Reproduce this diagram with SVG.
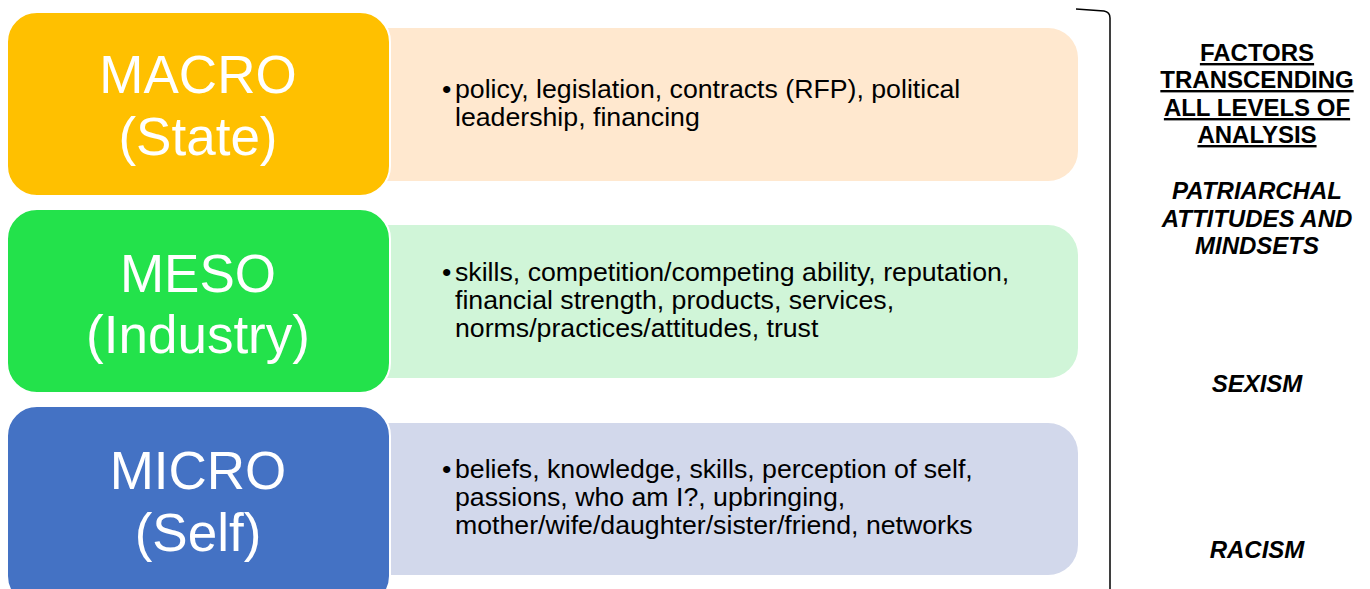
<svg xmlns="http://www.w3.org/2000/svg" width="1370" height="589" viewBox="0 0 1370 589">
<style>
.big{font-family:"Liberation Sans",Arial,sans-serif;font-size:53px;fill:#fff;text-anchor:middle}
.body{font-family:"Liberation Sans",Arial,sans-serif;font-size:26.7px;fill:#000}
.hd{font-family:"Liberation Sans",Arial,sans-serif;font-size:24px;font-weight:bold;fill:#000;text-anchor:middle}
.it{font-style:italic}
.lvl{stroke:#fff;stroke-width:2}
</style>
<rect width="1370" height="589" fill="#fff"/>
<g id="macro-detail"><path d="M370 28 H1048 A30 30 0 0 1 1078 58 V151 A30 30 0 0 1 1048 181 H370 Z" fill="#FFE8CF"/>
<text class="body"><tspan x="442" y="98">•</tspan><tspan x="455" y="98">policy, legislation, contracts (RFP), political</tspan><tspan x="455" y="126">leadership, financing</tspan></text></g>
<g id="meso-detail"><path d="M370 225 H1048 A30 30 0 0 1 1078 255 V348 A30 30 0 0 1 1048 378 H370 Z" fill="#D0F5D8"/>
<text class="body"><tspan x="442" y="281">•</tspan><tspan x="455" y="281">skills, competition/competing ability, reputation,</tspan><tspan x="455" y="309">financial strength, products, services,</tspan><tspan x="455" y="337">norms/practices/attitudes, trust</tspan></text></g>
<g id="micro-detail"><path d="M370 423 H1048 A30 30 0 0 1 1078 453 V545 A30 30 0 0 1 1048 575 H370 Z" fill="#D2D8EB"/>
<text class="body"><tspan x="442" y="478">•</tspan><tspan x="455" y="478">beliefs, knowledge, skills, perception of self,</tspan><tspan x="455" y="506">passions, who am I?, upbringing,</tspan><tspan x="455" y="534">mother/wife/daughter/sister/friend, networks</tspan></text></g>
<g id="macro"><rect class="lvl" x="7" y="12" width="383" height="184" rx="30" fill="#FFC000"/>
<text class="big"><tspan x="198" y="93">MACRO</tspan><tspan x="198" y="155">(State)</tspan></text></g>
<g id="meso"><rect class="lvl" x="7" y="209" width="383" height="184" rx="30" fill="#23E24B"/>
<text class="big"><tspan x="198" y="292">MESO</tspan><tspan x="198" y="353">(Industry)</tspan></text></g>
<g id="micro"><rect class="lvl" x="7" y="406" width="383" height="200" rx="30" fill="#4472C4"/>
<text class="big"><tspan x="198" y="489">MICRO</tspan><tspan x="198" y="551">(Self)</tspan></text></g>
<g id="connectors"><path d="M1076 9 L1104 11 Q1110 12 1110 18 V589" fill="none" stroke="#000" stroke-width="1.5"/></g>
<g id="factors"><text class="hd" text-decoration="underline"><tspan x="1257" y="61">FACTORS</tspan><tspan x="1257" y="88">TRANSCENDING</tspan><tspan x="1257" y="116">ALL LEVELS OF</tspan><tspan x="1257" y="143">ANALYSIS</tspan></text></g>
<g id="patriarchal"><text class="hd it"><tspan x="1257" y="199">PATRIARCHAL</tspan><tspan x="1257" y="227">ATTITUDES AND</tspan><tspan x="1257" y="254">MINDSETS</tspan></text></g>
<g id="sexism"><text class="hd it" x="1257" y="392">SEXISM</text></g>
<g id="racism"><text class="hd it" x="1257" y="558">RACISM</text></g>
</svg>
